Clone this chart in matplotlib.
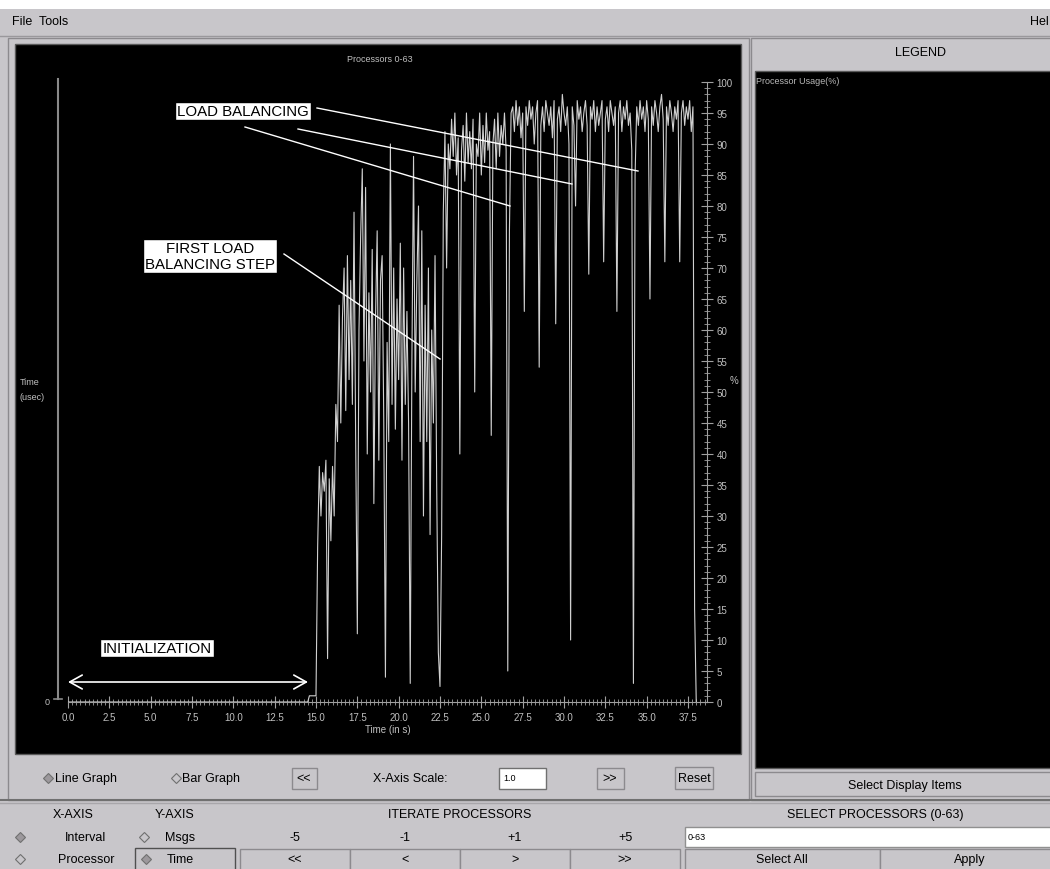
import numpy as np
import matplotlib
matplotlib.use('Agg')
import matplotlib.pyplot as plt
from matplotlib.patches import Rectangle
from matplotlib.ticker import MultipleLocator, FormatStrFormatter

# processor usage (%) of processors 0-63, one value every 0.1 s from 14.5 s
t_first = 14.5
t_step = 0.1
usage_init = [0, 1, 1, 1, 1, 1]                                   # 14.5 - 15.0
usage_start = [25, 38, 30, 37, 34, 39, 7, 36, 26,                 # 15.1 - 15.9
               38, 30, 48, 42, 64, 45, 62, 70, 47, 72,            # 16
               52, 68, 48, 79, 42, 11, 60, 75, 86, 55,            # 17
               83, 40, 66, 50, 73, 32, 62, 76, 39, 68,            # 18
               72, 45, 4, 58, 42, 90, 48, 70, 44, 65,             # 19
               52, 74, 39, 70, 48, 63, 45, 3, 55, 88,             # 20
               50, 68, 80, 42, 76, 30, 64, 42, 70, 27,            # 21
               60, 45, 72, 35, 8, 2.5, 27, 79, 92, 70]            # 22
usage_balanced = [90, 86, 94, 88, 95, 85, 91, 40, 89, 93,         # 23
                  84, 95, 87, 92, 86, 94, 50, 90, 88, 95,         # 24
                  85, 93, 87, 95, 89, 92, 43, 90, 94, 86,         # 25
                  95, 88, 93, 90, 95, 89, 5, 76, 95, 96,          # 26
                  92, 97, 93, 96, 91, 95, 63, 96, 93, 97,         # 27
                  94, 96, 90, 95, 97, 54, 93, 96, 92, 97,         # 28
                  95, 93, 96, 91, 97, 61, 94, 96, 92, 98,         # 29
                  95, 93, 96, 90, 10, 96, 93, 80, 97, 94,         # 30
                  96, 92, 95, 97, 93, 69, 96, 94, 97, 92,         # 31
                  96, 93, 95, 97, 71, 94, 96, 92, 97, 95,         # 32
                  93, 96, 63, 95, 97, 92, 96, 94, 97, 93,         # 33
                  95, 89, 3, 85, 96, 93, 97, 94, 96, 92,          # 34
                  97, 94, 65, 96, 93, 97, 95, 92, 96, 98,         # 35
                  94, 71, 96, 93, 97, 95, 92, 96, 94, 97,         # 36
                  71, 95, 97, 93, 96, 94, 97, 92, 96, 15,         # 37
                  0]                                              # 38.0

usage = usage_init + usage_start + usage_balanced
times = t_first + t_step * np.arange(len(usage))
times = np.concatenate([[0.0], times])
usage = np.array([0] + usage, dtype=float)

x_ticks = np.arange(0, 37.6, 2.5)
x_max = 38.65

BG = '#c8c6ca'
EDGE = '#8c8a8e'
GUI = ['Liberation Sans', 'DejaVu Sans']
ANN = ['Liberation Sans', 'DejaVu Sans']

fig = plt.figure(figsize=(10.5, 8.7), dpi=100, facecolor=BG)

# window chrome, drawn in pixel coordinates
bg = fig.add_axes([0, 0, 1, 1])
bg.set_xlim(0, 1050)
bg.set_ylim(870, 0)
bg.axis('off')


def box(x, y, w, h, fc=BG, ec=EDGE, lw=1.0):
    bg.add_patch(Rectangle((x, y), w, h, fc=fc, ec=ec, lw=lw))


def label(x, y, s, size=9, ha='center', color='black'):
    bg.text(x, y, s, fontsize=size, ha=ha, va='center', color=color, family=GUI)


def diamond(x, y, filled):
    bg.plot([x], [y], marker='D', ms=5.5, mfc='#9c989c' if filled else BG,
            mec='#707070', mew=0.8)


bg.add_patch(Rectangle((0, 0), 1050, 10, fc='white', ec='none'))
label(12, 22, 'File  Tools', ha='left')
label(1049, 22, 'Hel', ha='right')
bg.plot([0, 1050], [37, 37], color='#9a989c', lw=1)

# graph panel
box(8, 39, 741, 762)
box(15, 45, 726, 710, fc='black', ec='#5a5a5a')
label(380, 60, 'Processors 0-63', size=6.5, color='#c0c0c0')
label(20, 383, 'Time', size=6.5, ha='left', color='#c0c0c0')
label(20, 398, '(usec)', size=6.5, ha='left', color='#c0c0c0')
bg.plot([58, 58], [80, 700], color='#8a8a8a', lw=1.5)
bg.plot([54, 62], [700, 700], color='#8a8a8a', lw=1.2)
label(47, 703, '0', size=6.5, color='#c0c0c0')

# legend panel
box(751, 39, 305, 762)
label(920, 53, 'LEGEND')
box(755, 72, 300, 697, fc='black', ec='#5a5a5a')
label(756, 82, 'Processor Usage(%)', size=6.5, ha='left', color='#b8b8b8')
box(755, 773, 300, 24)
label(905, 786, 'Select Display Items')

# controls under the graph
diamond(48, 779, True)
label(55, 779, 'Line Graph', ha='left')
diamond(176, 779, False)
label(182, 779, 'Bar Graph', ha='left')
box(292, 769, 25, 21)
label(304, 779, '<<')
label(410, 779, 'X-Axis Scale:')
box(499, 769, 47, 21, fc='white', ec='#707070')
label(503, 779, '1.0', size=6.5, ha='left')
box(597, 769, 27, 21)
label(610, 779, '>>')
box(675, 768, 38, 22)
label(694, 779, 'Reset')

# bottom control strip
bg.plot([0, 1050], [801, 801], color='#707070', lw=1.5)
bg.plot([0, 1050], [804, 804], color='#a8a6aa', lw=1)
label(73, 815, 'X-AXIS')
label(175, 815, 'Y-AXIS')
label(460, 815, 'ITERATE PROCESSORS')
label(875, 815, 'SELECT PROCESSORS (0-63)')
diamond(20, 838, True)
label(86, 838, 'Interval')
diamond(144, 838, False)
label(180, 838, 'Msgs')
box(135, 849, 100, 25, ec='#505050')
diamond(20, 860, False)
label(86, 860, 'Processor')
diamond(146, 860, True)
label(180, 860, 'Time')
for x0, top, bottom in [(240, '-5', '<<'), (350, '-1', '<'), (460, '+1', '>'), (570, '+5', '>>')]:
    label(x0 + 55, 838, top)
    box(x0, 850, 110, 24)
    label(x0 + 55, 860, bottom)
box(685, 828, 370, 20, fc='white', ec='#909090')
label(688, 838, '0-63', size=6.5, ha='left')
box(685, 850, 195, 24)
label(782, 860, 'Select All')
box(880, 850, 175, 24)
label(970, 860, 'Apply')

# the usage graph itself
ax = fig.add_axes([68 / 1050, 1 - 703 / 870, (707 - 68) / 1050, (703 - 83) / 870])
ax.patch.set_alpha(0)
ax.plot(times, usage, color='#d0d0d0', lw=0.8)
ax.set_xlim(0, x_max)
ax.set_ylim(0, 100)
for side in ['left', 'top']:
    ax.spines[side].set_visible(False)
for side in ['right', 'bottom']:
    ax.spines[side].set_color('#a0a0a0')
ax.spines['right'].set_bounds(0, 100)
ax.yaxis.tick_right()
ax.yaxis.set_label_position('right')
ax.set_xticks(x_ticks)
ax.xaxis.set_major_formatter(FormatStrFormatter('%.1f'))
ax.xaxis.set_minor_locator(MultipleLocator(0.25))
ax.yaxis.set_major_locator(MultipleLocator(5))
ax.yaxis.set_minor_locator(MultipleLocator(1))
ax.tick_params(which='major', direction='inout', length=8, width=0.8, color='#a0a0a0',
               labelcolor='#c0c0c0', labelsize=7, pad=3)
ax.tick_params(which='minor', direction='inout', length=4, width=0.6, color='#a0a0a0')
for lab in ax.get_xticklabels() + ax.get_yticklabels():
    lab.set_family(GUI)
ax.set_xlabel('Time (in s)', fontsize=7, color='#c0c0c0', labelpad=2, family=GUI)
ax.set_ylabel('%', fontsize=7, color='#c0c0c0', rotation=0, family=GUI, va='center')
ax.yaxis.set_label_coords(1.043, 0.52)

# hand-drawn annotations on top
ov = fig.add_axes([0, 0, 1, 1])
ov.set_xlim(0, 1050)
ov.set_ylim(870, 0)
ov.axis('off')
ov.patch.set_alpha(0)
note = dict(boxstyle='square,pad=0.15', fc='white', ec='black', lw=1)
ov.text(243, 112, 'LOAD BALANCING', fontsize=10.8, ha='center', va='center', family=ANN, bbox=note)
for x0, y0, x1, y1 in [(245, 128, 510, 207), (298, 130, 572, 185), (317, 109, 638, 172)]:
    ov.plot([x0, x1], [y0, y1], color='white', lw=1)
ov.text(210, 257, 'FIRST LOAD\nBALANCING STEP', fontsize=10.8, ha='center', va='center',
        family=ANN, linespacing=1.2, bbox=note)
ov.plot([284, 440], [255, 360], color='white', lw=1)
ov.text(157, 649, 'INITIALIZATION', fontsize=10.8, ha='center', va='center', family=ANN, bbox=note)
ov.annotate('', xy=(68, 683), xytext=(308, 683),
            arrowprops=dict(arrowstyle='<->,head_length=0.9,head_width=0.5', color='white', lw=1.2,
                            shrinkA=0, shrinkB=0))

fig.savefig('out.png', dpi=100, facecolor=BG)
